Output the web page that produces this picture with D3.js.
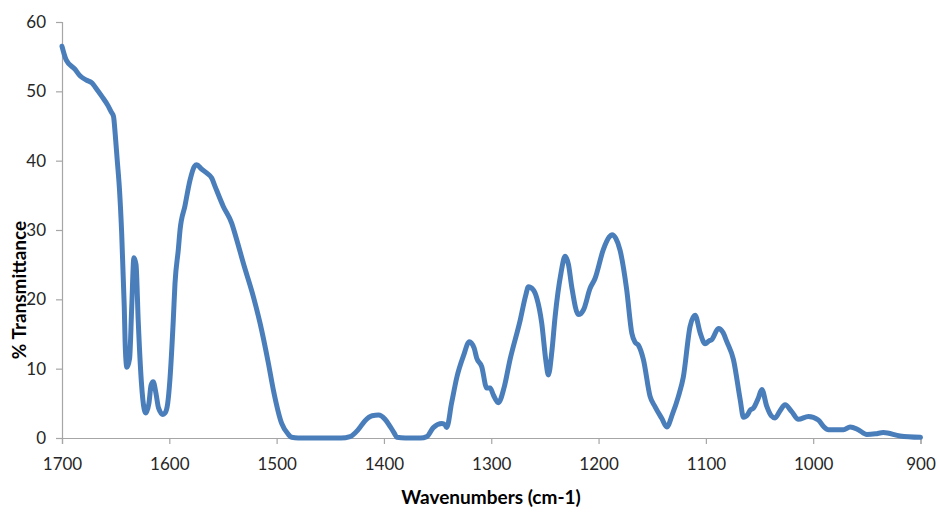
<!DOCTYPE html>
<html>
<head>
<meta charset="utf-8">
<script src="https://cdn.jsdelivr.net/npm/d3@7"></script>
<style>
  html, body { margin: 0; padding: 0; background: #fff; }
  svg { display: block; }
</style>
</head>
<body>
<svg id="chart" width="940" height="512"></svg>
<script>
// Wavenumbers (cm-1), high to low
const wavenumbers = [
  1700, 1696, 1688, 1683, 1677, 1672, 1669, 1663, 1657, 1654, 1652, 1650.5, 1648.5, 1646.5, 1644.4, 1642, 1641, 1639.5,
  1637, 1635, 1633, 1631, 1629, 1626, 1623.5, 1622, 1619, 1617, 1615, 1612.5, 1610, 1606, 1604, 1601.5, 1599.4, 1596.3,
  1594.7, 1591.6, 1590, 1585.4, 1580.7, 1576.5, 1574.5, 1570, 1565, 1560.5, 1557.4, 1549.7, 1541.9, 1537.2, 1531,
  1521.7, 1515.5, 1507.7, 1503, 1495.3, 1489, 1486, 1480, 1460, 1440, 1431.6, 1424, 1417.6, 1411, 1405, 1399, 1394, 1390, 1388,
  1380, 1366, 1360, 1354, 1346, 1343, 1341.5, 1337, 1332, 1326, 1320.4, 1316, 1313.5, 1308.9, 1304.2, 1301,
  1298, 1293.4, 1288, 1282.5, 1273, 1268, 1265.4, 1261, 1257.6, 1253, 1249, 1246.8, 1243.5, 1240.5, 1235, 1231.2, 1228,
  1225, 1218.8, 1214, 1207.9, 1203.3, 1195.5, 1190, 1187.5, 1184, 1180, 1173.8, 1169, 1166, 1162.9, 1158.2, 1152,
  1147.3, 1141, 1136.4, 1131, 1125.6, 1121, 1114.7, 1110, 1105.4, 1100.7, 1097, 1094.5, 1088.3, 1084, 1080.5,
  1074.3, 1068, 1065, 1061, 1058.8, 1055.7, 1051, 1047.9, 1043.3, 1039, 1035.5, 1031, 1026.2, 1020, 1013.8,
  1004.5, 995.2, 990, 985.8, 971.8, 965.6, 958, 950, 942, 934.6, 919, 900
];
// % Transmittance at each wavenumber
const transmittance = [
  56.5, 54.5, 53.2, 52.2, 51.6, 51.2, 50.6, 49.3, 47.9, 47.0, 46.4, 44.0, 40.0, 36.0, 29.6, 19, 13, 10.2,
  11.5, 19, 26.0, 25, 17, 8, 4.2, 3.6, 5, 7.6, 8.1, 6.5, 4.3, 3.4, 3.6, 5.0, 8.5, 17.0,
  22.3, 27.2, 30.0, 33.5, 37.2, 39.2, 39.4, 38.8, 38.2, 37.5, 36.3, 33.4, 31.0, 28.6, 25.2,
  20.4, 16.6, 10.8, 6.9, 2.1, 0.5, 0.1, 0, 0, 0, 0.2, 1.2, 2.5, 3.2, 3.3, 2.7, 1.6, 0.6, 0.1,
  0, 0, 0.2, 1.5, 2.1, 1.9, 1.5, 5, 8.8, 11.8, 13.9, 13.0, 11.5, 10.3, 7.2, 7.2,
  6.2, 5.1, 7.3, 11.3, 17.0, 20.5, 21.8, 21.4, 20.2, 16.6, 11.0, 9.1, 12.5, 17.5, 23.8, 26.2, 25.0,
  21.8, 17.8, 18.5, 21.6, 23.0, 27.2, 29.0, 29.3, 28.8, 27.1, 21.4, 15.1, 13.8, 13.4, 11.3, 6.0,
  4.5, 2.8, 1.6, 3.5, 6.0, 8.8, 16.1, 17.7, 15.2, 13.6, 14.0, 14.2, 15.8, 15.2, 13.9,
  11.3, 5.5, 3.0, 3.4, 4.0, 4.3, 5.8, 7.0, 4.6, 3.2, 2.9, 3.9, 4.8, 3.8, 2.7,
  3.1, 2.6, 1.6, 1.2, 1.2, 1.6, 1.2, 0.5, 0.6, 0.8, 0.3, 0.1
];
// Axis ticks
const xTicks = [1700, 1600, 1500, 1400, 1300, 1200, 1100, 1000, 900];
const yTicks = [0, 10, 20, 30, 40, 50, 60];

const data = wavenumbers.map((w, i) => ({ w, t: transmittance[i] }));

const svg = d3.select("#chart");

const x = d3.scaleLinear().domain([1700, 900]).range([62, 920.5]);
const y = d3.scaleLinear().domain([0, 60]).range([438, 22]);

const axisColor = "#a6a6a6";
const font = "Lato, 'Open Sans', sans-serif";

// X axis
const gx = svg.append("g")
  .attr("transform", `translate(0,${y(0)})`)
  .call(d3.axisBottom(x).tickValues(xTicks).tickFormat(d3.format("d")).tickSize(6).tickPadding(14));
// Y axis
const gy = svg.append("g")
  .attr("transform", `translate(${x(1700)},0)`)
  .call(d3.axisLeft(y).tickValues(yTicks).tickFormat(d3.format("d")).tickSize(6).tickPadding(10));

[gx, gy].forEach(g => {
  g.selectAll("path.domain").attr("stroke", axisColor).attr("stroke-width", 1.2);
  g.selectAll(".tick line").attr("stroke", axisColor).attr("stroke-width", 1.2);
  g.selectAll(".tick text")
    .attr("fill", "#262626")
    .style("font-family", font)
    .style("font-size", "17px");
});

// Line
const line = d3.line()
  .x(d => x(d.w))
  .y(d => y(d.t))
  .curve(d3.curveMonotoneX);

svg.append("path")
  .datum(data)
  .attr("fill", "none")
  .attr("stroke", "#4a7ebb")
  .attr("stroke-width", 5)
  .attr("stroke-linejoin", "round")
  .attr("stroke-linecap", "round")
  .attr("d", line);

// Axis titles
svg.append("text")
  .attr("x", 491)
  .attr("y", 504)
  .attr("text-anchor", "middle")
  .style("font-family", font)
  .style("font-weight", "bold")
  .style("font-size", "19px")
  .attr("fill", "#000")
  .text("Wavenumbers (cm-1)");

svg.append("text")
  .attr("transform", "translate(26,290) rotate(-90)")
  .attr("text-anchor", "middle")
  .style("font-family", font)
  .style("font-weight", "bold")
  .style("font-size", "19px")
  .attr("fill", "#000")
  .text("% Transmittance");
</script>
</body>
</html>
